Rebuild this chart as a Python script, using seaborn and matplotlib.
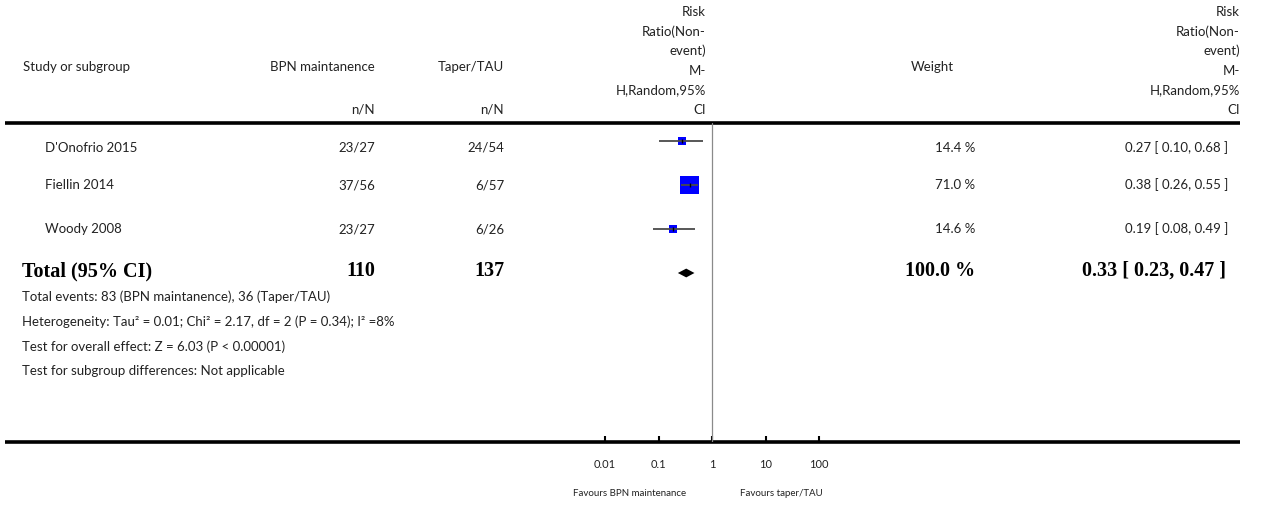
import numpy as np
import matplotlib
matplotlib.use("Agg")
import matplotlib.pyplot as plt
from matplotlib.ticker import NullLocator
import seaborn as sns

# ---- data ----
studies = ["D'Onofrio 2015", "Fiellin 2014", "Woody 2008"]
bpn_events = ["23/27", "37/56", "23/27"]
taper_events = ["24/54", "6/57", "6/26"]
rr = [0.27, 0.38, 0.19]
ci_low = [0.10, 0.26, 0.08]
ci_high = [0.68, 0.55, 0.49]
weights = [14.4, 71.0, 14.6]

total_label = "Total (95% CI)"
total_bpn_n = 110
total_taper_n = 137
total_rr = 0.33
total_low = 0.23
total_high = 0.47
total_weight = 100.0

rr_header = ["Risk", "Ratio(Non-", "event)", "M-", "H,Random,95%", "CI"]
footer_lines = [
    "Total events: 83 (BPN maintanence), 36 (Taper/TAU)",
    "Heterogeneity: Tau\u00b2 = 0.01; Chi\u00b2 = 2.17, df = 2 (P = 0.34); I\u00b2 =8%",
    "Test for overall effect: Z = 6.03 (P < 0.00001)",
    "Test for subgroup differences: Not applicable",
]
axis_ticks = [0.01, 0.1, 1, 10, 100]
tick_labels = ["0.01", "0.1", "1", "10", "100"]
favours_left = "Favours BPN maintenance"
favours_right = "Favours taper/TAU"

# ---- style ----
sns.set_theme(style="white")
plt.rcParams["font.family"] = ["Lato", "DejaVu Sans"]
TXT = "#222222"
SANS = 9.5
BOLD = dict(family=["Liberation Serif"], weight="bold", fontsize=14.5, color="black")

W, H = 1268, 512
fig = plt.figure(figsize=(W / 100, H / 100), dpi=100)

# canvas in pixel units for the table text and rules
canvas = fig.add_axes([0, 0, 1, 1])
canvas.set_xlim(0, W)
canvas.set_ylim(H, 0)
canvas.axis("off")

# forest panel on a log scale
x0, x1, ytop, ybot = 570, 855, 123, 442
x_one, px_per_dec = 712, 53.5
row0_px, row_step = 141, 44
ax = fig.add_axes([x0 / W, 1 - ybot / H, (x1 - x0) / W, (ybot - ytop) / H])
ax.patch.set_alpha(0)

rows = np.arange(len(studies))
total_row = len(studies)

ax.hlines(rows, ci_low, ci_high, color="#4a4a4a", lw=1.3, zorder=3)
sns.scatterplot(x=rr, y=rows, size=weights, sizes=(34, 169), size_norm=(14.4, 71.0),
                marker="s", color="#0000ff", edgecolor="none", linewidth=0,
                legend=False, ax=ax, zorder=2)
ax.scatter(rr, rows, marker="|", s=10, color="black", linewidths=1, zorder=4)

d = 0.1
ax.fill([total_low, total_rr, total_high, total_rr],
        [total_row, total_row - d, total_row, total_row + d],
        color="black", lw=0, zorder=3)

ax.axvline(1, color="#8a8a8a", lw=0.9, zorder=1)

ax.set_xscale("log")
ax.set_xlim(10 ** ((x0 - x_one) / px_per_dec), 10 ** ((x1 - x_one) / px_per_dec))
ax.set_ylim((ybot - row0_px) / row_step, (ytop - row0_px) / row_step)
ax.set_xticks(axis_ticks)
ax.set_xticklabels(tick_labels)
ax.xaxis.set_minor_locator(NullLocator())
ax.set_yticks([])
ax.set_xlabel("")
ax.set_ylabel("")
ax.tick_params(axis="x", direction="in", length=4.3, width=1.5, pad=12,
               labelsize=8, color="black", labelcolor=TXT, bottom=True)
for s in ax.spines.values():
    s.set_visible(False)

# horizontal rules
canvas.hlines([ytop, ybot], 5, 1240, color="black", lw=2.6)

# header
canvas.text(23, 67, "Study or subgroup", ha="left", va="center", fontsize=SANS, color=TXT)
canvas.text(375, 67, "BPN maintanence", ha="right", va="center", fontsize=SANS, color=TXT)
canvas.text(504, 67, "Taper/TAU", ha="right", va="center", fontsize=SANS, color=TXT)
canvas.text(375, 110, "n/N", ha="right", va="center", fontsize=SANS, color=TXT)
canvas.text(504, 110, "n/N", ha="right", va="center", fontsize=SANS, color=TXT)
canvas.text(932, 67, "Weight", ha="center", va="center", fontsize=SANS, color=TXT)
for i, line in enumerate(rr_header):
    yy = 12 + 19.6 * i
    canvas.text(706, yy, line, ha="right", va="center", fontsize=SANS, color=TXT)
    canvas.text(1240, yy, line, ha="right", va="center", fontsize=SANS, color=TXT)

# study rows
row_text_y = [148, 185, 229]
for i, name in enumerate(studies):
    y = row_text_y[i]
    canvas.text(45, y, name, ha="left", va="center", fontsize=SANS, color=TXT)
    canvas.text(375, y, bpn_events[i], ha="right", va="center", fontsize=SANS, color=TXT)
    canvas.text(504, y, taper_events[i], ha="right", va="center", fontsize=SANS, color=TXT)
    canvas.text(975, y, f"{weights[i]:.1f} %", ha="right", va="center", fontsize=SANS, color=TXT)
    canvas.text(1228, y, f"{rr[i]:.2f} [ {ci_low[i]:.2f}, {ci_high[i]:.2f} ]",
                ha="right", va="center", fontsize=SANS, color=TXT)

# total row
ty = 271
canvas.text(22, ty, total_label, ha="left", va="center", **BOLD)
canvas.text(375, ty, f"{total_bpn_n}", ha="right", va="center", **BOLD)
canvas.text(504, ty, f"{total_taper_n}", ha="right", va="center", **BOLD)
canvas.text(975, ty, f"{total_weight:.1f} %", ha="right", va="center", **BOLD)
canvas.text(1226, ty, f"{total_rr:.2f} [ {total_low:.2f}, {total_high:.2f} ]",
            ha="right", va="center", **BOLD)

# footnotes
for i, line in enumerate(footer_lines):
    canvas.text(22, 297 + 24.7 * i, line, ha="left", va="center", fontsize=SANS, color=TXT)

# favours labels
canvas.text(686, 494, favours_left, ha="right", va="center", fontsize=7, color=TXT)
canvas.text(740, 494, favours_right, ha="left", va="center", fontsize=7, color=TXT)

fig.savefig("out.png", dpi=100)
